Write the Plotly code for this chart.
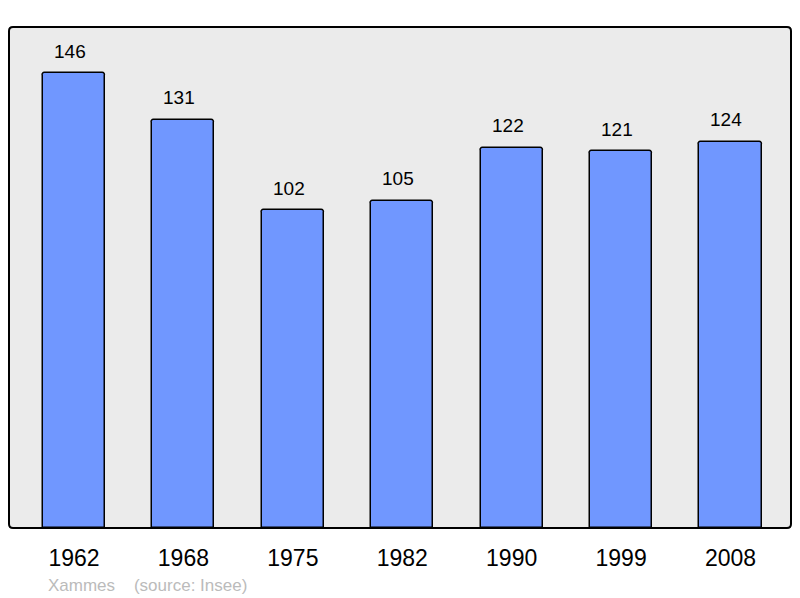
import plotly.graph_objects as go

years = ["1962", "1968", "1975", "1982", "1990", "1999", "2008"]
population = [146, 131, 102, 105, 122, 121, 124]
footer_text = "Xammes    (source: Insee)"

# page body has an 8px margin, so the figure is drawn 8px in from the top-left
OFF = 8
W, H = 800 - OFF, 598 - OFF
L, T = 9 - OFF, 27 - OFF
pw, ph = 782, 501
R, B = W - L - pw, H - T - ph

xpos = list(range(len(years)))

fig = go.Figure()
fig.add_trace(go.Bar(
    x=xpos, y=population, width=0.567,
    marker=dict(color="#7097ff", line=dict(color="#000000", width=1.5), cornerradius=3),
    hoverinfo="skip",
))

for xi, v in zip(xpos, population):
    fig.add_annotation(x=xi, y=v, text=str(v), showarrow=False, xref="x", yref="y",
                       yanchor="middle", yshift=22, xshift=-4,
                       font=dict(family="Liberation Sans, Arial", size=19, color="#000000"))

# rounded frame
r = 4
rx, ry = r / pw, r / ph
path = (f"M {rx},0 L {1-rx},0 Q 1,0 1,{ry} L 1,{1-ry} Q 1,1 {1-rx},1 "
        f"L {rx},1 Q 0,1 0,{1-ry} L 0,{ry} Q 0,0 {rx},0 Z")
fig.add_shape(type="path", path=path, xref="paper", yref="paper",
              line=dict(color="#000000", width=2), layer="above")

fig.add_annotation(text=footer_text, xref="paper", yref="paper",
                   x=(46 - 9) / pw, y=-(585 - 528) / ph,
                   xanchor="left", yanchor="middle", showarrow=False,
                   font=dict(family="Liberation Sans, Arial", size=17, color="#bbbbbb"))

fig.update_layout(
    width=W, height=H,
    margin=dict(l=L, r=R, t=T, b=B),
    paper_bgcolor="#ffffff",
    plot_bgcolor="#ebebeb",
    showlegend=False,
    bargap=0,
    xaxis=dict(range=[-0.594, 6.553], tickvals=xpos, ticktext=years, showgrid=False,
               zeroline=False, ticks="", showline=False, ticklabelstandoff=14,
               tickfont=dict(family="Liberation Sans, Arial", size=23, color="#000000")),
    yaxis=dict(range=[0, 160.8], showgrid=False, zeroline=False, showticklabels=False,
               ticks="", showline=False),
)

fig.write_html("out.html")
